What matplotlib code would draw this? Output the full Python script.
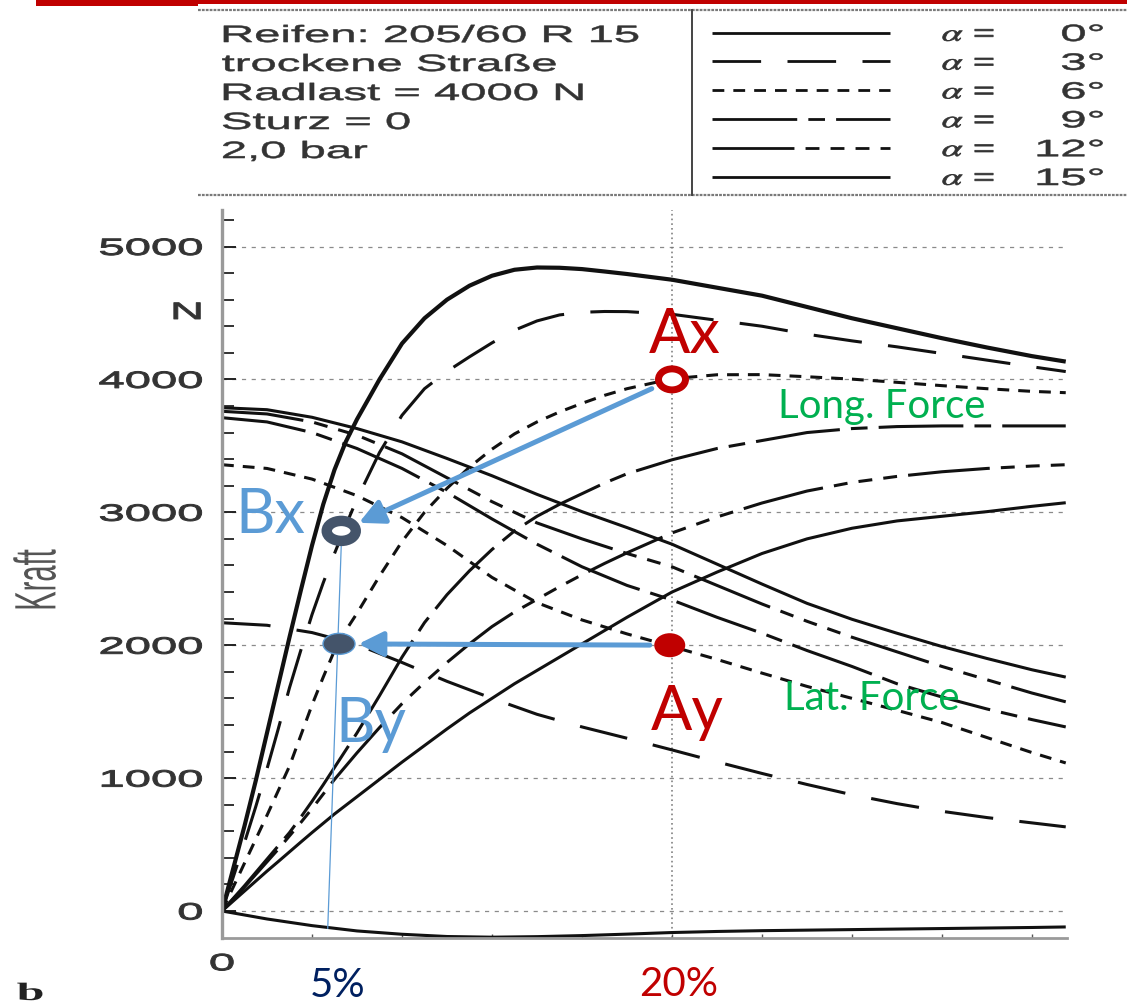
import matplotlib
matplotlib.use("Agg")
import matplotlib.pyplot as plt
from matplotlib.patches import Ellipse, Rectangle, FancyArrowPatch, ArrowStyle
from matplotlib.patheffects import AbstractPathEffect
from matplotlib.transforms import Affine2D
from matplotlib.lines import Line2D

plt.rcParams["lines.scale_dashes"] = False
plt.rcParams["mathtext.fontset"] = "stix"

# ---------------------------------------------------------------- data
# longitudinal slip (%) at which the longitudinal force curves were read
slip_long = [0, 0.5, 1, 1.5, 2, 2.5, 3, 3.5, 4, 4.5, 5, 5.5, 6,
             7, 8, 9, 10, 11, 12, 13, 14, 15, 16, 17, 18,
             20, 22, 24, 26, 28, 30, 32, 34, 36, 37.5]

# longitudinal force (N) for slip angles 0..15 deg
fx_a0 = [0, 320, 640, 980, 1340, 1700, 2060, 2410, 2750, 3060, 3320, 3530, 3700,
         4000, 4270, 4460, 4600, 4705, 4780, 4825, 4842, 4840, 4830, 4812, 4793,
         4750, 4690, 4630, 4545, 4460, 4385, 4310, 4240, 4175, 4134]
fx_a3 = [0, 255, 515, 785, 1070, 1370, 1680, 1960, 2230, 2470, 2690, 2900, 3100,
         3450, 3730, 3930, 4060, 4170, 4275, 4370, 4440, 4485, 4505, 4511, 4510,
         4490, 4445, 4400, 4340, 4290, 4245, 4195, 4145, 4095, 4059]
fx_a6 = [0, 180, 360, 540, 720, 905, 1090, 1320, 1550, 1760, 1960, 2110, 2240,
         2520, 2780, 3000, 3180, 3340, 3475, 3590, 3680, 3755, 3820, 3880, 3930,
         4005, 4035, 4036, 4020, 4002, 3978, 3953, 3930, 3910, 3900]
fx_a9 = [0, 95, 190, 290, 390, 490, 590, 705, 825, 950, 1080, 1210, 1340,
         1620, 1910, 2170, 2380, 2560, 2720, 2860, 2970, 3060, 3140, 3220, 3290,
         3395, 3480, 3540, 3600, 3630, 3645, 3650, 3650, 3650, 3650]
fx_a12 = [0, 90, 180, 275, 370, 465, 565, 665, 770, 880, 990, 1090, 1190,
          1380, 1560, 1720, 1870, 2010, 2140, 2250, 2345, 2440, 2530, 2615, 2695,
          2845, 2965, 3070, 3160, 3225, 3270, 3305, 3330, 3348, 3358]
fx_a15 = [0, 75, 150, 225, 300, 372, 445, 518, 590, 660, 730, 795, 860,
          990, 1120, 1245, 1370, 1490, 1600, 1710, 1810, 1910, 2010, 2110, 2210,
          2400, 2550, 2690, 2800, 2880, 2935, 2970, 3005, 3045, 3072]

# longitudinal slip (%) at which the lateral force curves were read
slip_lat = [0, 2, 4, 6, 8, 10, 12, 14, 16, 18, 20, 22, 24, 26, 28, 30, 32, 34, 36, 37.5]

# lateral force (N) for slip angles 0..15 deg
fy_a0 = [0, -60, -110, -150, -175, -192, -197, -193, -185, -174,
         -162, -154, -148, -144, -140, -136, -132, -128, -124, -120]
fy_a3 = [2169, 2150, 2095, 2005, 1870, 1728, 1600, 1480, 1385, 1300,
         1212, 1122, 1035, 952, 875, 808, 750, 703, 663, 633]
fy_a6 = [3358, 3330, 3250, 3125, 2960, 2750, 2510, 2320, 2190, 2085,
         1990, 1893, 1790, 1690, 1600, 1510, 1418, 1305, 1192, 1114]
fy_a9 = [3712, 3680, 3600, 3480, 3330, 3150, 2950, 2760, 2590, 2450,
         2340, 2210, 2090, 1960, 1840, 1710, 1610, 1520, 1440, 1385]
fy_a12 = [3760, 3740, 3680, 3580, 3440, 3260, 3080, 2920, 2800, 2690,
          2590, 2450, 2310, 2180, 2060, 1950, 1840, 1740, 1640, 1574]
fy_a15 = [3787, 3772, 3715, 3630, 3530, 3405, 3275, 3135, 3005, 2885,
          2760, 2610, 2460, 2315, 2195, 2090, 1990, 1900, 1815, 1760]

alphas = [0, 3, 6, 9, 12, 15]
alpha_labels = ["0°", "3°", "6°", "9°", "12°", "15°"]
notes = ["Reifen: 205/60 R 15", "trockene Straße", "Radlast = 4000 N", "Sturz = 0", "2,0 bar"]

y_ticks = [0, 1000, 2000, 3000, 4000, 5000]
y_tick_labels = ["0", "1000", "2000", "3000", "4000", "5000"]
x_ticks = [0]
x_tick_labels = ["0"]

# operating points: A at 20 % slip, B at 5 % slip
pt_names = ["Ax", "Ay", "Bx", "By"]
pt_slip = [20, 20, 5.3, 5.2]
pt_force = [4000, 2000, 2860, 2010]
slip_marks = ["5%", "20%"]


# ---------------------------------------------------------------- helpers
class HStretch(AbstractPathEffect):
    """Stretch glyph outlines horizontally (display x) around an anchor edge,
    optionally thickening them with an outline of the fill colour."""

    def __init__(self, sx, anchor="left", bold=0.0):
        super().__init__()
        self.sx = sx
        self.anchor = anchor
        self.bold = bold

    def draw_path(self, renderer, gc, tpath, affine, rgbFace=None):
        ext = tpath.get_extents(affine)
        if self.anchor == "left":
            xa = ext.x0
        elif self.anchor == "right":
            xa = ext.x1
        else:
            xa = 0.5 * (ext.x0 + ext.x1)
        st = Affine2D().translate(-xa, 0).scale(self.sx, 1).translate(xa, 0)
        gc0 = renderer.new_gc()
        gc0.copy_properties(gc)
        if self.bold > 0 and rgbFace is not None:
            gc0.set_linewidth(self.bold)
            gc0.set_foreground(rgbFace)
            gc0.set_joinstyle("round")
        renderer.draw_path(gc0, tpath, affine + st, rgbFace)
        gc0.restore()


W, H = 1127, 1007
PX_X = 22.5      # pixels per % slip
PX_Y = 0.1329    # pixels per N

fig = plt.figure(figsize=(W / 100, H / 100), dpi=100)


def fxp(px):
    return px / W


def fyp(py):
    return 1 - py / H


INK = "#111111"
GREY_TXT = "#333333"
SCAN_FONT = ["Liberation Sans", "DejaVu Sans"]
NOTE_FONT = ["Lato", "DejaVu Sans"]

styles = {0: (3.0, None), 3: (2.2, (35, 19)), 6: (2.2, (8.5, 6.5)),
          9: (2.2, (61, 8, 12, 8)), 12: (2.2, (59, 8, 10, 8, 10, 8, 10, 8)),
          15: (2.2, None)}

# ---------------------------------------------------------------- main axes
ax = fig.add_axes([fxp(222), fyp(938), (1067 - 222) / W, (938 - 210) / H])
ax.set_xlim(0, (1067 - 222) / PX_X)
ax.set_ylim(-(938 - 911) / PX_Y, (911 - 210) / PX_Y)

for s in ("top", "right"):
    ax.spines[s].set_visible(False)
ax.spines["left"].set_color("#9a9a9a")
ax.spines["left"].set_linewidth(2.4)
ax.spines["bottom"].set_color("#9a9a9a")
ax.spines["bottom"].set_linewidth(2.0)

ax.set_yticks(y_ticks)
ax.set_yticklabels(y_tick_labels, fontsize=17, color=GREY_TXT, family=SCAN_FONT)
ax.set_yticks(range(200, 5201, 200), minor=True)
ax.tick_params(axis="y", which="major", direction="in", length=10, width=1.4,
               color="#222222", pad=14)
ax.tick_params(axis="y", which="minor", direction="in", length=8.5, width=1.3,
               color="#222222")
ax.set_xticks(x_ticks)
ax.set_xticklabels(x_tick_labels, fontsize=17, color=GREY_TXT, family=SCAN_FONT)
ax.set_xticks(range(4, 37, 4), minor=True)
ax.tick_params(axis="x", which="major", direction="in", length=0, pad=11)
ax.tick_params(axis="x", which="minor", direction="in", length=3, width=1.0,
               color="#555555")
for t in ax.get_yticklabels():
    t.set_path_effects([HStretch(2.0, "right", bold=0.7)])
for t in ax.get_xticklabels():
    t.set_path_effects([HStretch(2.0, "center", bold=0.7)])

# grid
for yv in y_ticks:
    ax.axhline(yv, color="#8a8a8a", lw=0.9, ls=(0, (3, 4)), zorder=1)
ax.axvline(pt_slip[0], color="#777777", lw=1.1, ls=(0, (1.2, 2.2)), zorder=1)

long_curves = [fx_a0, fx_a3, fx_a6, fx_a9, fx_a12, fx_a15]
lat_curves = [fy_a0, fy_a3, fy_a6, fy_a9, fy_a12, fy_a15]
for a, fxv, fyv in zip(alphas, long_curves, lat_curves):
    lw, dsh = styles[a]
    for xs, vals, w in ((slip_long, fxv, lw), (slip_lat, fyv, 2.2)):
        ln, = ax.plot(xs, vals, color=INK, lw=w, solid_capstyle="butt",
                      dash_capstyle="butt", solid_joinstyle="round", zorder=2)
        if dsh:
            ln.set_dashes(dsh)

# axis captions
ax.text(-20 / PX_X, 4500, "N", ha="right", va="center", fontsize=17, color=GREY_TXT,
        family=SCAN_FONT, clip_on=False, path_effects=[HStretch(2.0, "right", bold=0.7)])
fig.text(fxp(37), fyp(580), "Kraft", rotation=90, ha="center", va="center", fontsize=21,
         color="#555555", family=SCAN_FONT, path_effects=[HStretch(2.0, "center")])
fig.text(fxp(17), fyp(1000), "b", ha="left", va="baseline", fontsize=18, weight="bold",
         color="#222222", family=["Liberation Serif", "DejaVu Serif"],
         path_effects=[HStretch(2.0, "left")])

# ---------------------------------------------------------------- annotations
RED = "#c00000"
BLUE = "#5b9bd5"
SLATE = "#44546a"

ax.plot([pt_slip[2], pt_slip[2] - 0.6], [pt_force[2] - 110, -130], color=BLUE, lw=0.9,
        zorder=6)

arrow_style = ArrowStyle("-|>", head_length=15, head_width=7.5)
for (i0, i1) in ((0, 2), (1, 3)):
    arr = FancyArrowPatch((pt_slip[i0], pt_force[i0]), (pt_slip[i1], pt_force[i1]),
                          arrowstyle=arrow_style, mutation_scale=1, color=BLUE, lw=3.6,
                          shrinkA=16, shrinkB=14, zorder=7)
    ax.add_patch(arr)

ax.add_patch(Ellipse((pt_slip[0], pt_force[0]), 27 / PX_X, 21 / PX_Y, fc="white",
                     ec=RED, lw=5.0, zorder=8))
ax.add_patch(Ellipse((pt_slip[1] - 0.1, pt_force[1]), 31 / PX_X, 24 / PX_Y, fc=RED,
                     ec="none", zorder=8))
ax.add_patch(Ellipse((pt_slip[2], pt_force[2]), 29 / PX_X, 20 / PX_Y, fc="white",
                     ec=SLATE, lw=7.5, zorder=8))
ax.add_patch(Ellipse((pt_slip[3], pt_force[3]), 32 / PX_X, 21 / PX_Y, fc=SLATE,
                     ec=BLUE, lw=1.0, zorder=8))

lab_pos = {"Ax": (20.55, 4200, RED), "Ay": (20.7, 1365, RED),
           "Bx": (2.15, 2846, BLUE), "By": (6.6, 1275, BLUE)}
for name in pt_names:
    x, y, c = lab_pos[name]
    ax.text(x, y, name, ha="center", va="baseline", fontsize=44, color=c,
            family=NOTE_FONT, zorder=9)

ax.text(24.7, 3712, "Long. Force", ha="left", va="baseline", fontsize=29,
        color="#00b050", family=NOTE_FONT, zorder=9)
ax.text(25.0, 1514, "Lat. Force", ha="left", va="baseline", fontsize=29,
        color="#00b050", family=NOTE_FONT, zorder=9)

ax.text(5.15, -(997 - 911) / PX_Y, slip_marks[0], ha="center", va="baseline",
        fontsize=29, color="#002060", family=NOTE_FONT, clip_on=False)
ax.text(20.3, -(996 - 911) / PX_Y, slip_marks[1], ha="center", va="baseline",
        fontsize=29, color=RED, family=NOTE_FONT, clip_on=False)

# ---------------------------------------------------------------- header box
fig.add_artist(Rectangle((fxp(36), fyp(6)), fxp(198) - fxp(36), fyp(0) - fyp(6),
                         transform=fig.transFigure, color=RED, lw=0))
fig.add_artist(Rectangle((fxp(198), fyp(4)), fxp(1127) - fxp(198), fyp(0) - fyp(4),
                         transform=fig.transFigure, color=RED, lw=0))
for yb in (10, 195):
    fig.add_artist(Line2D([fxp(198), fxp(1127)], [fyp(yb), fyp(yb)],
                          transform=fig.transFigure, color="#7a7a7a", lw=1.6,
                          ls=(0, (2, 0.8))))
fig.add_artist(Line2D([fxp(692), fxp(692)], [fyp(10), fyp(195)],
                      transform=fig.transFigure, color="#444444", lw=1.4))

for i, note in enumerate(notes):
    fig.text(fxp(222), fyp(42 + 29 * i), note, ha="left", va="baseline", fontsize=17,
             color=GREY_TXT, family=SCAN_FONT,
             path_effects=[HStretch(2.0, "left", bold=0.4)])

for i, (a, lab) in enumerate(zip(alphas, alpha_labels)):
    yc = 32.5 + 28.8 * i
    lw, dsh = styles[a]
    ln = Line2D([fxp(712), fxp(890)], [fyp(yc), fyp(yc)], transform=fig.transFigure,
                color=INK, lw=2.0, solid_capstyle="butt", dash_capstyle="butt")
    if dsh:
        ln.set_dashes(dsh)
    fig.add_artist(ln)
    fig.text(fxp(942), fyp(yc + 8.5), r"$\alpha$ =", ha="left", va="baseline",
             fontsize=17, color=GREY_TXT, family=SCAN_FONT,
             path_effects=[HStretch(1.6, "left", bold=0.5)])
    fig.text(fxp(1104), fyp(yc + 8.5), lab, ha="right", va="baseline", fontsize=17,
             color=GREY_TXT, family=SCAN_FONT,
             path_effects=[HStretch(2.0, "right", bold=0.4)])

fig.savefig("out.png", dpi=100)
